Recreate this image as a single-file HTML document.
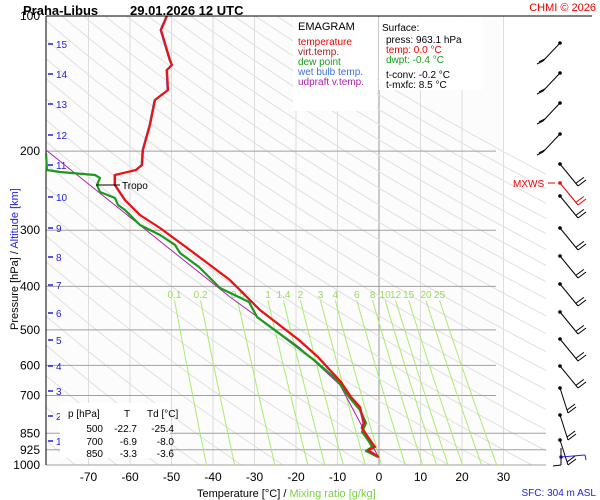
<!DOCTYPE html><html><head><meta charset="utf-8"><style>
body{margin:0;background:#fff}svg{display:block;font-family:"Liberation Sans",sans-serif}
</style></head><body>
<svg id="s" width="600" height="500" xmlns="http://www.w3.org/2000/svg">
<rect width="600" height="500" fill="#fff"/>
<rect x="46" y="16" width="457" height="449" fill="#fcfcfc"/>
<g id="g"></g>
<text x="23" y="15" font-size="13" font-weight="bold">Praha-Libus</text>
<text x="130" y="15" font-size="13" font-weight="bold">29.01.2026 12 UTC</text>
<text x="596" y="11" font-size="11" fill="#e00" text-anchor="end">CHMI © 2026</text>
<line x1="46" y1="16" x2="592" y2="16" stroke="#000"/>
<rect x="293" y="17" width="84" height="94" fill="#fff"/>
<rect x="379" y="17" width="104" height="73" fill="#fff"/>
<text x="298" y="30" font-size="11">EMAGRAM</text>
<g font-size="10"><text x="298" y="45" fill="#e00">temperature</text><text x="298" y="55" fill="#a02020">virt.temp.</text><text x="298" y="65" fill="#1a9a1a">dew point</text><text x="298" y="75" fill="#3a70e0">wet bulb temp.</text><text x="298" y="85" fill="#b020b0">udpraft v.temp.</text>
<text x="382" y="31">Surface:</text><text x="386" y="43">press: 963.1 hPa</text><text x="386" y="53" fill="#e00">temp: 0.0 °C</text><text x="386" y="63" fill="#1a9a1a">dwpt: -0.4 °C</text><text x="386" y="78">t-conv: -0.2 °C</text><text x="386" y="88">t-mxfc: 8.5 °C</text></g>
<rect x="60" y="403" width="110" height="55" fill="#fff"/>
<g font-size="10"><text x="68" y="417">p [hPa]</text><text x="124" y="417">T</text><text x="147" y="417">Td [°C]</text>
<text x="103" y="432" text-anchor="end">500</text><text x="137" y="432" text-anchor="end">-22.7</text><text x="174" y="432" text-anchor="end">-25.4</text>
<text x="103" y="445" text-anchor="end">700</text><text x="137" y="445" text-anchor="end">-6.9</text><text x="174" y="445" text-anchor="end">-8.0</text>
<text x="103" y="457" text-anchor="end">850</text><text x="137" y="457" text-anchor="end">-3.3</text><text x="174" y="457" text-anchor="end">-3.6</text></g>
<text x="18" y="330" font-size="11" transform="rotate(-90 18 330)">Pressure [hPa]  /  <tspan fill="#2222dd">Altitude [km]</tspan></text>
<text x="197" y="497" font-size="11">Temperature [°C]  /  <tspan fill="#7ad040">Mixing ratio [g/kg]</tspan></text>
<text x="596" y="496" font-size="10" fill="#2222dd" text-anchor="end">SFC: 304 m ASL</text>
<text x="513" y="187" font-size="10" fill="#e00">MXWS</text><line x1="548" y1="183" x2="555" y2="183" stroke="#e00"/>
<line x1="96" y1="185" x2="120" y2="185" stroke="#000"/><text x="122" y="189" font-size="10">Tropo</text>
</svg>
<script>
const g=document.getElementById('g');let h='';
const X=t=>379+t*4.15, Y=p=>16+449*Math.log10(p/100);
for(let t=-70;t<=30;t+=10)h+=`<line x1="${X(t)}" y1="16" x2="${X(t)}" y2="465" stroke="#dcdcdc"/>`;
h+=`<line x1="379" y1="16" x2="379" y2="465" stroke="#999"/>`;
h+='<g stroke="#e0e0e0" stroke-width="1" fill="none"><clipPath id="c"><rect x="46" y="16" width="500" height="449"/></clipPath><g clip-path="url(#c)">';
for(let th=200;th<=480;th+=10){let pts=[];for(let p=100;p<=1000;p+=20){let T=th*Math.pow(p/1000,0.286)-273.15;pts.push(X(T).toFixed(1)+','+Y(p).toFixed(1));}h+=`<polyline points="${pts.join(' ')}"/>`;}
h+='</g></g>';
[200,300,400,500,600,700].forEach(p=>h+=`<line x1="46" y1="${Y(p)}" x2="496" y2="${Y(p)}" stroke="#a0a0a0"/>`);
[850,925,1000].forEach(p=>h+=`<line x1="46" y1="${Y(p)}" x2="546" y2="${Y(p)}" stroke="#a0a0a0"/>`);
[0.1,0.2,0.5,1,1.4,2,3,4,6,8,10,12,15,20,25].forEach(w=>{let pts=[];for(let p=430;p<=1000;p+=30){let e=w*p/(622+w),l=Math.log(e/6.112),T=243.5*l/(17.67-l);pts.push(X(T).toFixed(1)+','+Y(p).toFixed(1));}
h+=`<polyline points="${pts.join(' ')}" stroke="#a8ec70" fill="none"/>`;let f=pts[0].split(',');h+=`<text x="${f[0]}" y="298" font-size="10" fill="#9ad860" text-anchor="middle">${w}</text>`;});
h+=`<line x1="46" y1="16" x2="46" y2="465" stroke="#000"/>`;
[100,200,300,400,500,600,700,850,925,1000].forEach(p=>h+=`<text x="40" y="${Y(p)+4}" font-size="12" text-anchor="end">${p}</text>`);
for(let t=-70;t<=30;t+=10)h+=`<text x="${X(t)}" y="481" font-size="12" text-anchor="middle">${t}</text>`;
const km=[[15,44],[14,74],[13,104],[12,135],[11,165],[10,197],[9,228],[8,257],[7,285],[6,313],[5,340],[4,366],[3,391],[2,416],[1,441]];
km.forEach(([k,y])=>h+=`<line x1="48" y1="${y}" x2="53" y2="${y}" stroke="#22d" stroke-width="1.5"/><text x="56" y="${y+4}" font-size="10" fill="#22d">${k}</text>`);
const pl=(a,c,w)=>`<polyline points="${a.map(p=>p.join(',')).join(' ')}" fill="none" stroke="${c}" stroke-width="${w}" stroke-linejoin="round"/>`;
h+=pl([[46,150],[171,250],[230,297],[299,347],[340,385],[379,458]],'#b020b0',1);
const T=[[167,16],[161,30],[170,60],[172,65],[167,70],[168,90],[155,100],[150,125],[143,150],[142,165],[136,170],[115,175],[115,185],[125,200],[140,215],[160,228],[190,250],[230,280],[260,310],[299,340],[318,357],[341,382],[351,397],[360,407],[364,423],[362,428],[368,437],[375,447],[368,450],[379,457]];
h+=pl(T.map(p=>[p[0]-1,p[1]]),'#3a70e0',1);
h+=pl([[46,153],[47,170],[60,172],[95,175],[100,178],[97,185],[100,192],[115,198],[118,205],[125,210],[140,225],[160,235],[175,245],[180,253],[199,267],[220,288],[249,302],[257,317],[284,337],[314,360],[337,380],[349,397],[360,410],[366,423],[362,432],[368,440],[372,447],[366,451],[378,457]],'#1a9a1a',2.2);
h+=pl(T,'#ee1111',2.2);
const B=[[43,-1],[73,-1],[103,-1],[134,-1],[164,1],[183,1],[196,1],[228,1],[256,1],[284,1],[312,1],[339,1],[366,1],[388,2],[415,2],[440,3]];
B.forEach(([y,d],i)=>{let c=(i==5)?'#e00':'#000';let ex,ey;if(d<0){ex=543;ey=y+18;}else if(d==1){ex=578;ey=y+22;}else{ex=568;ey=y+25;}
h+=`<circle cx="560" cy="${y}" r="1.8" fill="${c}"/><line x1="560" y1="${y}" x2="${ex}" y2="${ey}" stroke="${c}"/>`;
for(let k=0;k<2;k++){let bx=ex-(ex-560)*0.12*k,by=ey-(ey-y)*0.12*k;h+=`<line x1="${bx}" y1="${by}" x2="${bx+(d<0?-6:8)}" y2="${by-(d<0?-3:6)}" stroke="${c}"/>`;}});
h+=`<circle cx="561" cy="457" r="1.8" fill="#22d"/><line x1="561" y1="457" x2="585" y2="455" stroke="#22d"/><line x1="585" y1="455" x2="586" y2="460" stroke="#22d"/><line x1="561" y1="448" x2="561" y2="465" stroke="#000"/><line x1="553" y1="466" x2="561" y2="465" stroke="#000"/>`;
g.innerHTML=h;
</script></body></html>
